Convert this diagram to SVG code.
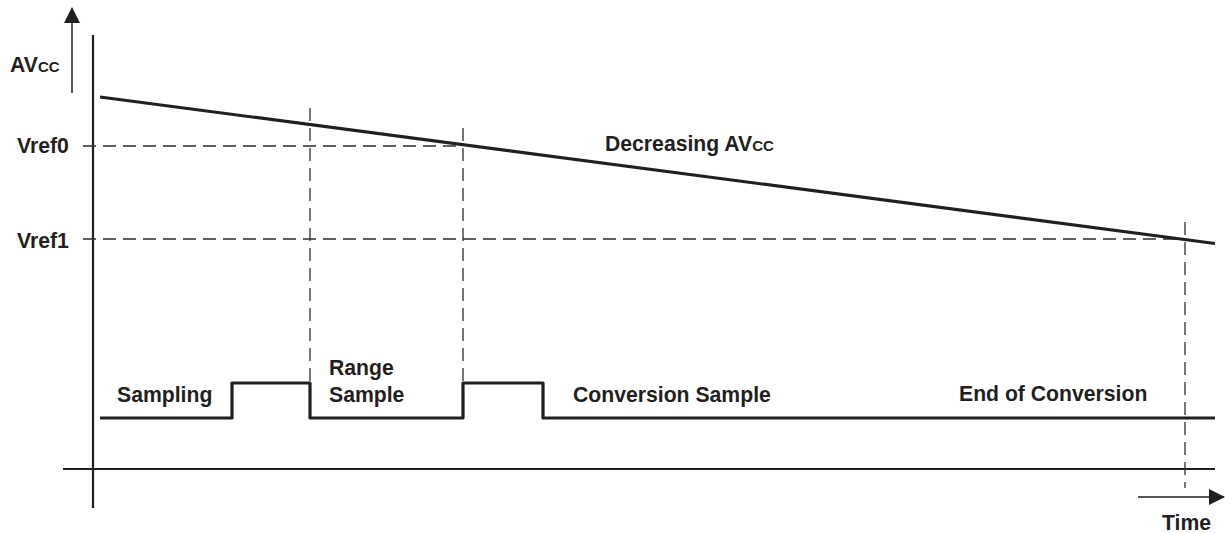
<svg xmlns="http://www.w3.org/2000/svg" width="1225" height="533" viewBox="0 0 1225 533">
<style>
text{font-family:"Liberation Sans",Arial,sans-serif;font-weight:bold;font-size:21.2px;fill:#231f20}
.sc{font-size:15px}
.axis{stroke:#231f20;stroke-width:2.2;fill:none}
.thin{stroke:#231f20;stroke-width:1.5;fill:none}
.thick{stroke:#231f20;stroke-width:3.2;fill:none;stroke-linejoin:round}
.dash{stroke:#2e2e2e;stroke-width:1.3;fill:none;stroke-dasharray:13 7}
</style>
<defs>
<marker id="ah" markerWidth="16" markerHeight="16" viewBox="0 0 16 16" refX="15" refY="8" orient="auto" markerUnits="userSpaceOnUse">
<path d="M0,0 L16,8 L0,16 Z" fill="#231f20"/>
</marker>
</defs>
<g id="connectors">
<line class="axis" x1="93" y1="35" x2="93" y2="508"/>
<line class="axis" x1="63" y1="469" x2="1215" y2="469"/>
<line class="thin" x1="72" y1="93" x2="72" y2="8" marker-end="url(#ah)"/>
<line class="thin" x1="1138" y1="497" x2="1224" y2="497" marker-end="url(#ah)"/>
<line class="dash" x1="83" y1="146" x2="463" y2="146"/>
<line class="dash" x1="83" y1="239" x2="1185" y2="239"/>
<line class="dash" x1="310" y1="108" x2="310" y2="383"/>
<line class="dash" x1="463" y1="128" x2="463" y2="383"/>
<line class="dash" x1="1185" y1="222" x2="1185" y2="488"/>
<line class="thick" x1="100" y1="97" x2="1215" y2="243.5"/>
<polyline class="thick" points="100,418 232,418 232,383 310,383 310,418 463,418 463,383 543,383 543,418 1215,418"/>
</g>
<g id="label-avcc"><text x="10" y="72">AV<tspan class="sc">CC</tspan></text></g>
<g id="label-vref0"><text x="17" y="153">Vref0</text></g>
<g id="label-vref1"><text x="17" y="248">Vref1</text></g>
<g id="label-decreasing"><text x="605" y="151">Decreasing AV<tspan class="sc">CC</tspan></text></g>
<g id="label-sampling"><text x="117" y="402">Sampling</text></g>
<g id="label-range"><text x="329" y="375">Range</text><text x="329" y="402">Sample</text></g>
<g id="label-conversion"><text x="573" y="402">Conversion Sample</text></g>
<g id="label-end"><text x="959" y="401">End of Conversion</text></g>
<g id="label-time"><text x="1162" y="530">Time</text></g>
</svg>
